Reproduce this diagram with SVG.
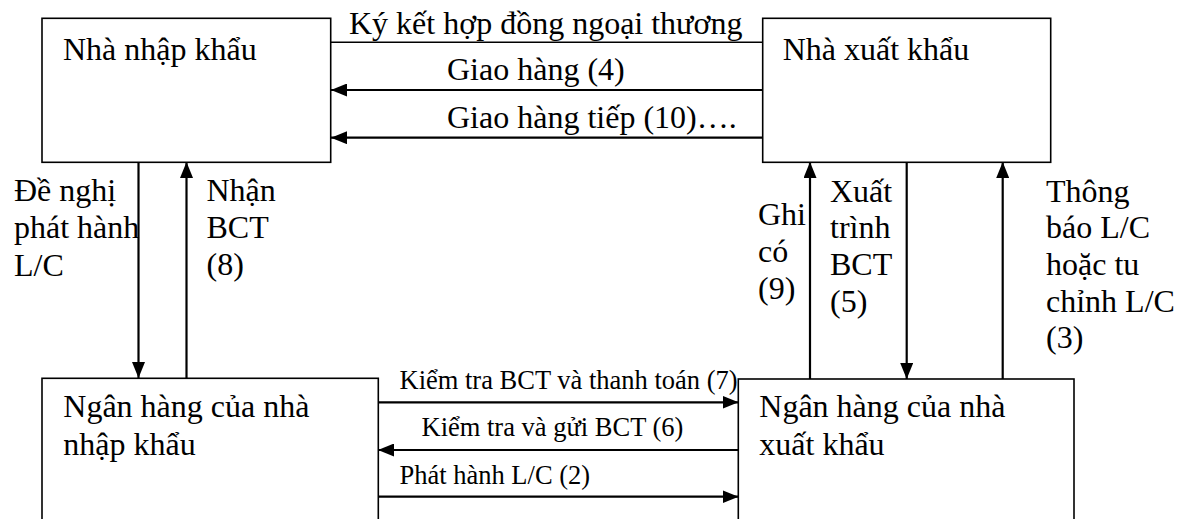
<svg xmlns="http://www.w3.org/2000/svg" width="1191" height="519" viewBox="0 0 1191 519">
  <style>
    .box { fill: #ffffff; stroke: #000000; stroke-width: 1.6; }
    .lbl { font-family: "Liberation Serif", "Times New Roman", serif; font-size: 32px; fill: #000000; }
    .sm { font-family: "Liberation Serif", "Times New Roman", serif; font-size: 26.5px; fill: #000000; }
    .flow { stroke: #000000; stroke-width: 2.2; fill: none; }
    .thin { stroke: #000000; stroke-width: 1.4; fill: none; }
  </style>
  <defs>
    <marker id="head" markerUnits="userSpaceOnUse" markerWidth="16" markerHeight="13" refX="16" refY="6.5" orient="auto">
      <path d="M0,0 L16,6.5 L0,13 Z" fill="#000000"/>
    </marker>
  </defs>
  <rect width="1191" height="519" fill="#ffffff"/>

  <!-- connectors -->
  <g id="connectors">
    <!-- contract line between traders -->
    <line class="thin" x1="331" y1="42.3" x2="763" y2="42.3"/>
    <text class="lbl" x="349" y="34">Ký kết hợp đồng ngoại thương</text>

    <!-- deliveries -->
    <line class="flow" x1="763" y1="90" x2="331" y2="90" marker-end="url(#head)"/>
    <text class="lbl" x="447" y="80">Giao hàng (4)</text>
    <line class="flow" x1="763" y1="137.7" x2="331" y2="137.7" marker-end="url(#head)"/>
    <text class="lbl" x="447" y="128">Giao hàng tiếp (10)….</text>

    <!-- importer side verticals -->
    <line class="flow" x1="138.5" y1="162" x2="138.5" y2="378" marker-end="url(#head)"/>
    <text class="lbl" x="14" y="201">Đề nghị</text>
    <text class="lbl" x="14" y="238.3">phát hành</text>
    <text class="lbl" x="14" y="276">L/C</text>

    <line class="flow" x1="186.5" y1="378" x2="186.5" y2="162" marker-end="url(#head)"/>
    <text class="lbl" x="206.5" y="201">Nhận</text>
    <text class="lbl" x="206.5" y="238.3">BCT</text>
    <text class="lbl" x="206.5" y="275">(8)</text>

    <!-- exporter side verticals -->
    <line class="flow" x1="810" y1="379" x2="810" y2="162" marker-end="url(#head)"/>
    <text class="lbl" x="758" y="225">Ghi</text>
    <text class="lbl" x="758" y="261.7">có</text>
    <text class="lbl" x="758" y="298.5">(9)</text>

    <line class="flow" x1="906.7" y1="162" x2="906.7" y2="379" marker-end="url(#head)"/>
    <text class="lbl" x="830" y="201.7">Xuất</text>
    <text class="lbl" x="830" y="238.3">trình</text>
    <text class="lbl" x="830" y="275">BCT</text>
    <text class="lbl" x="830" y="311.7">(5)</text>

    <line class="flow" x1="1002.7" y1="379" x2="1002.7" y2="162" marker-end="url(#head)"/>
    <text class="lbl" x="1046" y="201.7">Thông</text>
    <text class="lbl" x="1046" y="238.3">báo L/C</text>
    <text class="lbl" x="1046" y="275">hoặc tu</text>
    <text class="lbl" x="1046" y="311.7">chỉnh L/C</text>
    <text class="lbl" x="1046" y="348.3">(3)</text>

    <!-- bank to bank -->
    <line class="flow" x1="378" y1="402.3" x2="738.5" y2="402.3" marker-end="url(#head)"/>
    <text class="sm" x="399.5" y="389">Kiểm tra BCT và thanh toán (7)</text>
    <line class="flow" x1="738.5" y1="450" x2="378" y2="450" marker-end="url(#head)"/>
    <text class="sm" x="421.5" y="436">Kiểm tra và gửi BCT (6)</text>
    <line class="flow" x1="378" y1="496.7" x2="738.5" y2="496.7" marker-end="url(#head)"/>
    <text class="sm" x="399.5" y="484">Phát hành L/C (2)</text>
  </g>

  <!-- nodes -->
  <g id="importer">
    <rect class="box" x="42" y="18.3" width="288.7" height="144"/>
    <text class="lbl" x="63" y="60">Nhà nhập khẩu</text>
  </g>
  <g id="exporter">
    <rect class="box" x="762.7" y="18.3" width="288" height="144"/>
    <text class="lbl" x="782.7" y="60">Nhà xuất khẩu</text>
  </g>
  <g id="importer-bank">
    <rect class="box" x="42" y="378.3" width="336.3" height="160"/>
    <text class="lbl" x="63.3" y="417.3">Ngân hàng của nhà</text>
    <text class="lbl" x="63.3" y="455">nhập khẩu</text>
  </g>
  <g id="exporter-bank">
    <rect class="box" x="738.3" y="379" width="335.7" height="160"/>
    <text class="lbl" x="759.3" y="417.3">Ngân hàng của nhà</text>
    <text class="lbl" x="759.3" y="455">xuất khẩu</text>
  </g>
</svg>
